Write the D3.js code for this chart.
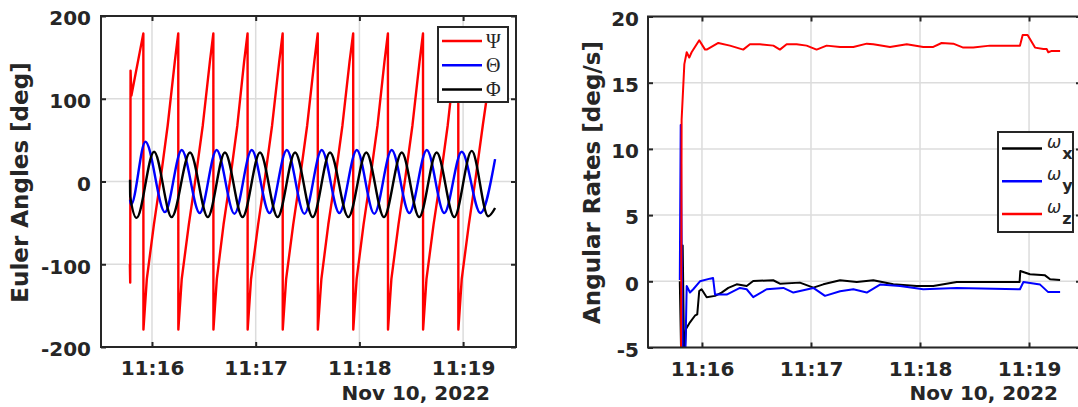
<!DOCTYPE html>
<html>
<head>
<meta charset="utf-8">
<script src="https://cdn.jsdelivr.net/npm/d3@7"></script>
<style>
  body { margin: 0; background: #fff; }
  svg text { font-family: "DejaVu Sans", sans-serif; }
</style>
</head>
<body>
<svg id="fig" width="1078" height="407"></svg>
<script>
// time axis: seconds after 11:15:00 on Nov 10, 2022
const t0 = new Date(2022, 10, 10, 11, 15, 0);
const dateLabel = 'Nov 10, 2022';
const xTickSec = [60, 120, 180, 240];
const eulerTicks = [-200, -100, 0, 100, 200];
const rateTicks = [-5, 0, 5, 10, 15, 20];

// Euler angles [deg]  -- [sec, value]
const psi = [
  [47.2, -100], [47.4, -122], [47.6, 134], [48.1, 104], [55.0, 179],
  [55.05, -179], [57.0, -118], [61.1, -52], [65.1, 5], [69.1, 68], [73.2, 145], [75.2, 179],
  [75.25, -179], [77.2, -118], [81.3, -52], [85.3, 5], [89.4, 68], [93.5, 145], [95.5, 179],
  [95.55, -179], [97.5, -118], [101.4, -52], [105.4, 5], [109.4, 68], [113.3, 145], [115.3, 179],
  [115.35, -179], [117.3, -118], [121.4, -52], [125.4, 5], [129.5, 68], [133.6, 145], [135.6, 179],
  [135.65, -179], [137.6, -118], [141.7, -52], [145.7, 5], [149.8, 68], [153.9, 145], [155.9, 179],
  [155.95, -179], [158.0, -118], [162.0, -52], [166.1, 5], [170.2, 68], [174.3, 145], [176.4, 179],
  [176.45, -179], [178.4, -118], [182.4, -52], [186.4, 5], [190.5, 68], [194.5, 145], [196.5, 179],
  [196.55, -179], [198.5, -118], [202.6, -52], [206.6, 5], [210.7, 68], [214.8, 145], [216.8, 179],
  [216.85, -179], [218.8, -118], [222.9, -52], [227.0, 5], [231.1, 68], [235.2, 145], [237.2, 179],
  [237.25, -179], [239.2, -118], [243.3, -52], [247.3, 5], [251.4, 68], [253.6, 100]
];
const theta = [
  [47.3, -22], [47.9, -28], [56.2, 48], [67.5, -37], [77.2, 38], [87.6, -38], [97.4, 38],
  [107.7, -39], [117.7, 38], [128.0, -38], [138.0, 38], [148.2, -39], [158.2, 38], [168.4, -38],
  [178.5, 38], [188.6, -39], [198.7, 38], [208.9, -38], [219.0, 38], [229.1, -38], [239.2, 36],
  [250.0, -38], [258.5, 27]
];
const phi = [
  [47.3, 2], [47.4, -18], [51.1, -44], [61.2, 36], [71.4, -43], [82.0, 35], [92.3, -43],
  [102.2, 35], [112.4, -43], [122.5, 35], [132.7, -43], [142.8, 35], [153.0, -43], [163.0, 35],
  [173.6, -43], [184.0, 35], [194.2, -43], [204.5, 35], [214.6, -43], [224.7, 35], [234.9, -43],
  [245.0, 37], [254.5, -42], [258.5, -32]
];

// angular rates [deg/s]
const wx = [
  [47.8, 0.0], [48.6, -6], [49.4, 2.7], [50.2, -6], [51.2, -3.6], [53.4, -3.1], [56.1, -2.6],
  [57.4, -2.5], [58.5, -0.73], [59.8, -0.6], [62.6, -1.2], [67.2, -1.1], [70.8, -0.85],
  [74.5, -0.5], [79.1, -0.23], [84.6, -0.35], [88.2, 0.02], [99.2, 0.08], [102.9, -0.18],
  [113.9, -0.1], [121.3, -0.48], [126.8, -0.23], [136.0, 0.08], [145.2, -0.05], [154.3, 0.08],
  [165.3, -0.23], [178.2, -0.35], [187.3, -0.35], [200.2, -0.05], [234.8, -0.05], [235.2, 0.78],
  [240.5, 0.53], [248.8, 0.45], [251.6, 0.15], [257.1, 0.1]
];
const wy = [
  [47.8, 0.1], [48.3, 11.8], [49.4, -6], [50.8, -6], [51.6, -0.35], [53.4, -0.85], [55.2, -0.6],
  [58.9, 0.0], [64.4, 0.2], [66.1, 0.25], [67.2, -1.0], [73.6, -1.0], [80.9, -0.5], [84.6, -0.6],
  [88.2, -1.2], [95.6, -0.6], [104.8, -0.5], [110.3, -0.85], [121.3, -0.5], [127.7, -1.1],
  [136.0, -0.75], [143.3, -0.6], [150.7, -0.85], [158.0, -0.25], [169.0, -0.35], [181.8, -0.6],
  [200.2, -0.5], [235.0, -0.6], [236.9, -0.05], [246.1, -0.25], [250.4, -0.8], [257.1, -0.8]
];
const wz = [
  [48.5, -6], [48.8, 12.2], [50.3, 16.4], [51.6, 17.3], [53.0, 16.9], [54.3, 17.3], [58.5, 18.2],
  [61.7, 17.5], [62.6, 17.5], [69.0, 18.0], [75.4, 17.8], [82.7, 17.5], [86.4, 17.9], [91.9, 17.9],
  [99.3, 17.8], [102.9, 17.5], [106.6, 17.9], [112.1, 17.9], [117.6, 17.8], [123.1, 17.5],
  [128.6, 17.8], [136.0, 17.7], [143.3, 17.7], [150.7, 17.95], [154.3, 17.9], [163.5, 17.7],
  [172.7, 17.9], [181.8, 17.7], [187.3, 17.7], [191.9, 18.0], [198.3, 17.95], [203.8, 17.65],
  [209.3, 17.65], [218.5, 17.8], [227.7, 17.8], [235.0, 17.8], [236.5, 18.6], [239.2, 18.6],
  [243.3, 17.65], [247.9, 17.55], [249.7, 17.55], [250.6, 17.3], [252.5, 17.4], [257.1, 17.4]
];

const ink = '#262626';
const gridColor = '#dcdcdc';
const svg = d3.select('#fig');

function at(s) { return new Date(t0.getTime() + s * 1000); }

function panel(o) {
  const { left, right, top, bottom } = o.box;
  const x = d3.scaleTime().domain([at(o.xDomain[0]), at(o.xDomain[1])]).range([left, right]);
  const y = d3.scaleLinear().domain(o.yDomain).range([bottom, top]);
  const g = svg.append('g');

  g.append('clipPath').attr('id', o.id + '-clip')
    .append('rect').attr('x', left).attr('y', top)
    .attr('width', right - left).attr('height', bottom - top);

  // grid
  g.append('g').selectAll('line').data(xTickSec).enter().append('line')
    .attr('x1', d => x(at(d))).attr('x2', d => x(at(d)))
    .attr('y1', top).attr('y2', bottom)
    .attr('stroke', gridColor).attr('stroke-width', 1.5);
  g.append('g').selectAll('line').data(o.yTicks).enter().append('line')
    .attr('x1', left).attr('x2', right)
    .attr('y1', d => y(d)).attr('y2', d => y(d))
    .attr('stroke', gridColor).attr('stroke-width', 1.5);

  // series
  const plot = g.append('g').attr('clip-path', `url(#${o.id}-clip)`);
  o.series.forEach(s => {
    const line = d3.line()
      .x(d => x(at(d[0])))
      .y(d => y(d[1]))
      .curve(s.smooth ? d3.curveMonotoneX : d3.curveLinear);
    plot.append('path').datum(s.data)
      .attr('d', line)
      .attr('fill', 'none')
      .attr('stroke', s.color)
      .attr('stroke-width', o.lineWidth)
      .attr('stroke-linejoin', 'round');
  });

  // axes (ticks point inward)
  const tv = xTickSec.map(at);
  const fmt = d3.timeFormat('%H:%M');
  const xb = g.append('g').attr('transform', `translate(0,${bottom})`)
    .call(d3.axisBottom(x).tickValues(tv).tickFormat(fmt).tickSizeInner(-5).tickSizeOuter(0));
  xb.selectAll('text').attr('y', 28).attr('dy', 0);
  g.append('g').attr('transform', `translate(0,${top})`)
    .call(d3.axisTop(x).tickValues(tv).tickFormat('').tickSizeInner(-5).tickSizeOuter(0));
  const yl = g.append('g').attr('transform', `translate(${left},0)`)
    .call(d3.axisLeft(y).tickValues(o.yTicks).tickFormat(d => String(d))
      .tickSizeInner(-5).tickSizeOuter(0).tickPadding(o.yPad));
  yl.selectAll('text').attr('dy', '0.44em');
  g.append('g').attr('transform', `translate(${right},0)`)
    .call(d3.axisRight(y).tickValues(o.yTicks).tickFormat('').tickSizeInner(-5).tickSizeOuter(0));

  g.selectAll('.domain').remove();
  g.selectAll('.tick line').attr('stroke', ink).attr('stroke-width', 2);
  g.selectAll('.tick text')
    .attr('fill', ink).style('font-size', '20px').style('font-weight', 'bold');

  g.append('rect')
    .attr('x', left).attr('y', top)
    .attr('width', right - left).attr('height', bottom - top)
    .attr('fill', 'none').attr('stroke', ink).attr('stroke-width', 2);

  // date stamp and y label
  g.append('text')
    .attr('x', o.dateX).attr('y', 400)
    .attr('text-anchor', 'end')
    .attr('fill', ink).style('font-size', '20px').style('font-weight', 'bold')
    .text(dateLabel);
  g.append('text')
    .attr('transform', `translate(${o.labelX},182.5) rotate(-90)`)
    .attr('text-anchor', 'middle')
    .attr('fill', ink).style('font-size', '23px').style('font-weight', 'bold')
    .text(o.yLabel);

  // legend
  const L = o.legend;
  const lg = g.append('g');
  lg.append('rect')
    .attr('x', L.x).attr('y', L.y).attr('width', L.w).attr('height', L.h)
    .attr('fill', '#fff').attr('stroke', ink).attr('stroke-width', 2);
  L.items.forEach((it, i) => {
    const ly = L.y + L.first + i * L.step;
    lg.append('line')
      .attr('x1', L.x + 4).attr('x2', L.x + 44)
      .attr('y1', ly).attr('y2', ly)
      .attr('stroke', it.color).attr('stroke-width', 2.5);
    L.drawLabel(lg, it, L.x + 48, ly);
  });
}

panel({
  id: 'euler',
  box: { left: 101, right: 516, top: 16, bottom: 347 },
  xDomain: [30.5, 270.6],
  yDomain: [-200, 200],
  yTicks: eulerTicks,
  yPad: 10,
  yLabel: 'Euler Angles [deg]',
  labelX: 28,
  dateX: 490,
  lineWidth: 2.4,
  series: [
    { data: psi, color: '#ff0000', smooth: false },
    { data: theta, color: '#0000ff', smooth: true },
    { data: phi, color: '#000000', smooth: true }
  ],
  legend: {
    x: 438, y: 27, w: 70, h: 75, first: 14, step: 24.2,
    items: [
      { label: 'Ψ', color: '#ff0000' },
      { label: 'Θ', color: '#0000ff' },
      { label: 'Φ', color: '#000000' }
    ],
    drawLabel: (lg, it, x, y) => {
      lg.append('text').attr('x', x).attr('y', y + 7)
        .attr('fill', ink)
        .style('font-family', '"Liberation Serif", serif')
        .style('font-size', '20px')
        .text(it.label);
    }
  }
});

panel({
  id: 'rates',
  box: { left: 648, right: 1081, top: 16.5, bottom: 347.5 },
  xDomain: [30.3, 268.6],
  yDomain: [-5, 20],
  yTicks: rateTicks,
  yPad: 9,
  yLabel: 'Angular Rates [deg/s]',
  labelX: 599.5,
  dateX: 1058,
  lineWidth: 2,
  series: [
    { data: wx, color: '#000000', smooth: false },
    { data: wy, color: '#0000ff', smooth: false },
    { data: wz, color: '#ff0000', smooth: false }
  ],
  legend: {
    x: 998, y: 132, w: 75, h: 100, first: 16.5, step: 32.8,
    items: [
      { sub: 'x', color: '#000000' },
      { sub: 'y', color: '#0000ff' },
      { sub: 'z', color: '#ff0000' }
    ],
    drawLabel: (lg, it, x, y) => {
      const t = lg.append('text').attr('x', x + 1).attr('y', y - 1).attr('fill', ink);
      t.append('tspan').style('font-size', '17px').style('font-style', 'italic').text('ω');
      t.append('tspan').attr('dy', 11).attr('dx', 1)
        .style('font-size', '16px').style('font-weight', 'bold').text(it.sub);
    }
  }
});
</script>
</body>
</html>
